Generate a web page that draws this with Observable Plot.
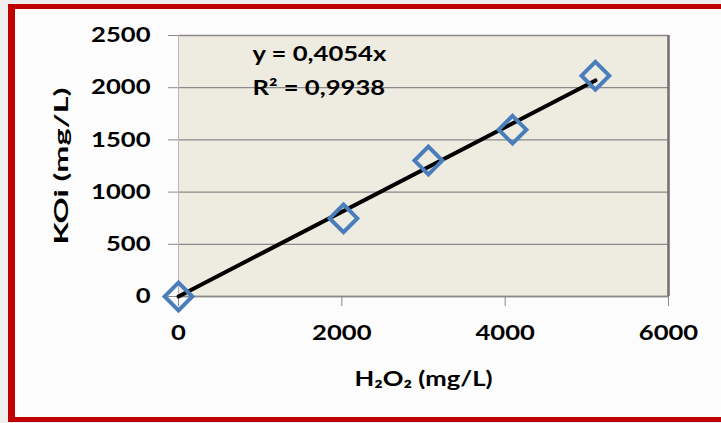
<!DOCTYPE html>
<html>
<head>
<meta charset="utf-8">
<script src="https://cdn.jsdelivr.net/npm/d3@7"></script>
<script src="https://cdn.jsdelivr.net/npm/@observablehq/plot@0.6"></script>
<style>
  html, body { margin: 0; padding: 0; }
  body { width: 721px; height: 423px; overflow: hidden; position: relative; background: #efefef; }
  #sheet { position: absolute; left: 8px; top: 4px; width: 740px; height: 408px;
           border: 5px solid #c00000; border-left-width: 7px; border-right: none; background: #fcfcfc; }
  #chart { position: absolute; left: 0; top: 0; }
</style>
</head>
<body>
<div id="sheet"></div>
<div id="chart"></div>
<script>
// H2O2 dose (mg/L) against measured KOi (mg/L)
const h2o2 = [0, 2020, 3060, 4090, 5105];
const koi = [0, 748, 1302, 1598, 2115];

// linear fit through the origin
const slope = 0.4054;
const r2 = 0.9938;

const xTicks = [0, 2000, 4000, 6000];
const yTicks = [0, 500, 1000, 1500, 2000, 2500];

const points = h2o2.map((x, i) => ({x, y: koi[i]}));
const xMax = d3.max(h2o2);
const trend = [{x: 0, y: 0}, {x: xMax, y: slope * xMax}];

const comma = v => String(v).replace(".", ",");
const eqLine = `y = ${comma(slope)}x`;
const r2Line = `R² = ${comma(r2)}`;

const font = "Lato, 'Open Sans', sans-serif";

const chart = Plot.plot({
  width: 721,
  height: 423,
  marginLeft: 178,
  marginRight: 53,
  marginTop: 35,
  marginBottom: 127,
  style: {background: "transparent", fontFamily: font, fontWeight: "bold", fontSize: "21px", color: "#000", overflow: "visible"},
  x: {domain: [0, 6000]},
  y: {domain: [0, 2500]},
  marks: [
    Plot.frame({fill: "#eeebe1", stroke: "none"}),
    Plot.gridY(yTicks, {stroke: "#8a8a8a", strokeOpacity: 1, strokeWidth: 1.3}),
    Plot.ruleX([0], {stroke: "#b9b9b9", strokeWidth: 1}),
    Plot.ruleX([6000], {stroke: "#6f6f6f", strokeWidth: 2.5}),
    Plot.ruleY([0], {stroke: "#8a8a8a", strokeWidth: 1.3}),
    Plot.axisY({ticks: yTicks, tickFormat: "d", tickSize: 10, tickPadding: 18, stroke: "#8a8a8a", strokeOpacity: 1, fill: "#000", fontSize: 21, label: null}),
    Plot.axisX({ticks: xTicks, tickFormat: "d", tickSize: 10, tickPadding: 19, stroke: "#8a8a8a", strokeOpacity: 1, fill: "#000", fontSize: 21, label: null}),
    Plot.line(trend, {x: "x", y: "y", stroke: "#000", strokeWidth: 4}),
    Plot.dot(points, {x: "x", y: "y", symbol: "diamond2", r: 12.5, stroke: "#4a7ebb", strokeWidth: 4, fill: "none"}),
    Plot.text([eqLine], {frameAnchor: "top-left", dx: 74, dy: 25, lineAnchor: "bottom", textAnchor: "start", fontSize: 21, fill: "#000"}),
    Plot.text([r2Line], {frameAnchor: "top-left", dx: 74, dy: 59, lineAnchor: "bottom", textAnchor: "start", fontSize: 21, fill: "#000"}),
    Plot.text(["H₂O₂ (mg/L)"], {frameAnchor: "bottom", dy: 89, lineAnchor: "bottom", fontSize: 21, fill: "#000"}),
    Plot.text(["KOi (mg/L)"], {frameAnchor: "left", dx: -116, rotate: -90, fontSize: 18, fill: "#000"})
  ]
});

document.getElementById("chart").append(chart);

// widen the glyphs along the reading direction (wide bold lettering)
d3.select(chart).selectAll("text").each(function () {
  const rotated = (this.getAttribute("transform") || "").includes("rotate");
  const k = rotated ? 1.8 : 1.22;
  const len = this.getComputedTextLength();
  const L = len * k;
  this.setAttribute("textLength", L);
  this.setAttribute("lengthAdjust", "spacingAndGlyphs");
  if (rotated) {
    // keep the stretched title centred on its anchor
    this.setAttribute("text-anchor", "start");
    this.setAttribute("x", -L / 2);
  }
});
</script>
</body>
</html>
